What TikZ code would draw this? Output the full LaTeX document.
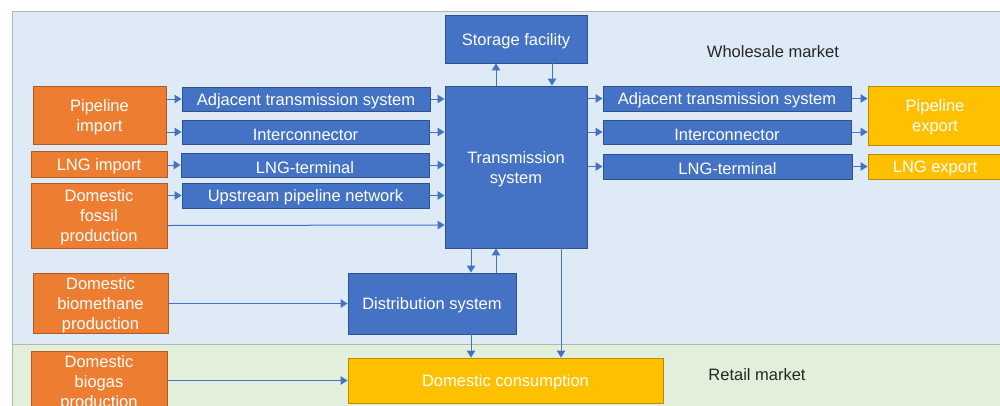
\documentclass[tikz,border=0pt]{standalone}
\usepackage{fontspec}
\setmainfont{Liberation Sans}
\usetikzlibrary{arrows.meta,calc}
\definecolor{bblue}{HTML}{4472C4}
\definecolor{bblueD}{HTML}{2F528F}
\definecolor{borange}{HTML}{ED7D31}
\definecolor{borangeD}{HTML}{AE5A21}
\definecolor{bgold}{HTML}{FFC000}
\definecolor{bgoldD}{HTML}{BC8C00}
\definecolor{bgblue}{HTML}{DEEAF6}
\definecolor{bggreen}{HTML}{E2EFDA}
\definecolor{bgline}{HTML}{B4B4B4}
\definecolor{txt}{HTML}{262626}
\newcommand{\fst}{\rule{0pt}{16.3pt}}
\tikzset{
  base/.style={rectangle, inner sep=0pt, text=white, align=center, line width=0.9pt,
     font=\fontsize{16.5}{20}\selectfont, execute at begin node={\fst}},
  bluebox/.style={base, fill=bblue, draw=bblueD},
  orangebox/.style={base, fill=borange, draw=borangeD},
  goldbox/.style={base, fill=bgold, draw=bgoldD},
  arr/.style={draw=bblue, line width=1pt, -{Triangle[width=8.5pt,length=7pt]}},
  lbl/.style={text=txt, font=\fontsize{16.5}{20}\selectfont}
}
\begin{document}
\begin{tikzpicture}[x=1pt,y=-1pt]
\useasboundingbox (0,0) rectangle (1000,405);
% backgrounds
\fill[bgblue] (12,11) rectangle (1001,344);
\fill[bggreen] (12,344) rectangle (1001,406);
\draw[bgline, line width=1pt] (1001,11) -- (12,11) -- (12,406);
\draw[bgline, line width=1pt] (12,344) -- (1001,344);
% nodes
\node[bluebox, minimum width=142pt, minimum height=48pt] (stor) at (516,39) {Storage facility};
\node[bluebox, minimum width=142pt, minimum height=162pt] (trans) at (516,167) {\fst Transmission\\system};
\node[orangebox, minimum width=133pt, minimum height=58pt] (pimp) at (99.5,115) {\fst Pipeline\\import};
\node[orangebox, minimum width=136pt, minimum height=26pt] (limp) at (99,164) {LNG import};
\node[orangebox, minimum width=136pt, minimum height=65pt] (foss) at (99,215.5) {\fst Domestic\\fossil\\production};
\node[bluebox, minimum width=248pt, minimum height=24pt] (adjL) at (306,99) {Adjacent transmission system};
\node[bluebox, minimum width=247pt, minimum height=24pt] (intL) at (305.5,132) {Interconnector};
\node[bluebox, minimum width=248pt, minimum height=24pt] (lngL) at (305,165) {LNG-terminal};
\node[bluebox, minimum width=247pt, minimum height=25pt] (upL) at (305.5,195.5) {Upstream pipeline network};
\node[bluebox, minimum width=248pt, minimum height=25pt] (adjR) at (727,98.5) {Adjacent transmission system};
\node[bluebox, minimum width=248pt, minimum height=24pt] (intR) at (727,132) {Interconnector};
\node[bluebox, minimum width=249pt, minimum height=25pt] (lngR) at (727.5,166.5) {LNG-terminal};
\node[goldbox, minimum width=134pt, minimum height=59pt] (pexp) at (935,115.5) {\fst Pipeline\\export};
\node[goldbox, minimum width=134pt, minimum height=25pt] (lexp) at (935,166.5) {LNG export};
\node[bluebox, minimum width=168pt, minimum height=61pt] (dist) at (432,303.5) {Distribution system};
\node[orangebox, minimum width=135pt, minimum height=60pt] (biom) at (100.5,303) {\fst Domestic\\biomethane\\production};
\node[orangebox, minimum width=136pt, minimum height=60pt] (biog) at (99,381) {\fst Domestic\\biogas\\production};
\node[goldbox, minimum width=315pt, minimum height=45pt] (cons) at (505.5,380.5) {Domestic consumption};
\node[lbl] (whole) at (773,52) {Wholesale market};
\node[lbl] (retail) at (757,375) {Retail market};
% storage arrows
\draw[arr] ($(trans.north)+(-20,0)$) -- ($(stor.south)+(-20,0)$);
\draw[arr] ($(stor.south)+(36,0)$) -- ($(trans.north)+(36,0)$);
% sources to left boxes
\draw[arr] (adjL.west -| pimp.east) -- (adjL.west);
\draw[arr] (intL.west -| pimp.east) -- (intL.west);
\draw[arr] (lngL.west -| limp.east) -- (lngL.west);
\draw[arr] (upL.west -| foss.east) -- (upL.west);
\draw[arr] ($(foss.east)+(0,10)$) -- ($(trans.west)+(0,58)$);
% left boxes to transmission
\draw[arr] (adjL.east) -- (adjL.east -| trans.west);
\draw[arr] (intL.east) -- (intL.east -| trans.west);
\draw[arr] (lngL.east) -- (lngL.east -| trans.west);
\draw[arr] (upL.east) -- (upL.east -| trans.west);
% transmission to right boxes
\draw[arr] (adjR.west -| trans.east) -- (adjR.west);
\draw[arr] (intR.west -| trans.east) -- (intR.west);
\draw[arr] (lngR.west -| trans.east) -- (lngR.west);
% right boxes to exports
\draw[arr] (adjR.east) -- (adjR.east -| pexp.west);
\draw[arr] (intR.east) -- (intR.east -| pexp.west);
\draw[arr] (lngR.east) -- (lngR.east -| lexp.west);
% transmission / distribution
\draw[arr] ($(trans.south)+(-45,0)$) -- ($(dist.north)+(39,0)$);
\draw[arr] ($(dist.north)+(64,0)$) -- ($(trans.south)+(-20,0)$);
\draw[arr] ($(trans.south)+(45,0)$) -- ($(cons.north)+(55.5,0)$);
\draw[arr] ($(dist.south)+(39,0)$) -- ($(cons.north)+(-34.5,0)$);
% biomethane, biogas
\draw[arr] (biom.east |- dist.west) -- (dist.west);
\draw[arr] (biog.east |- cons.west) -- (cons.west);
\end{tikzpicture}
\end{document}
